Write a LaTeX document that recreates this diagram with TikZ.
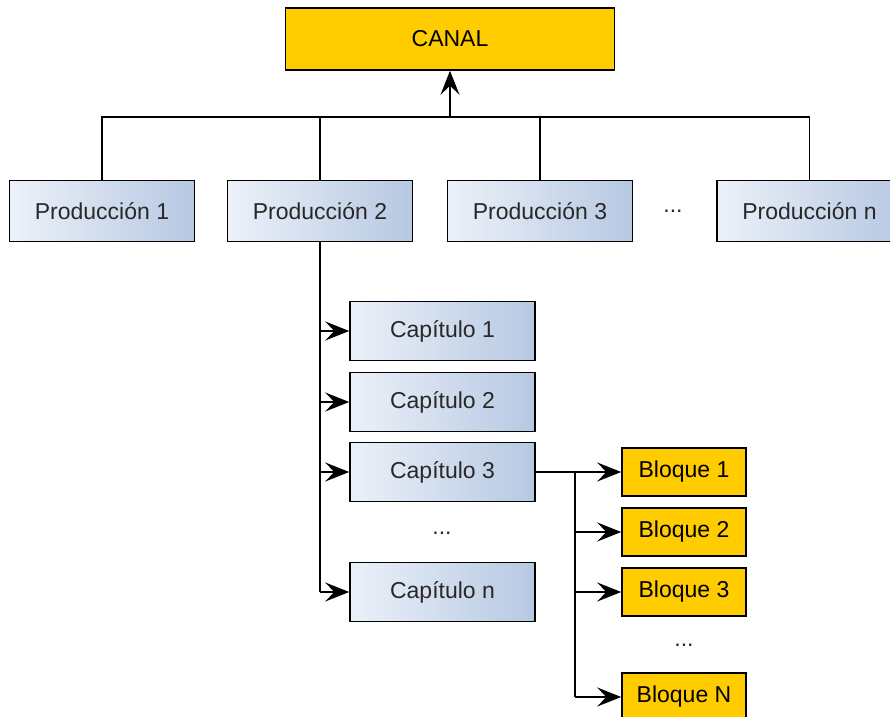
\documentclass[tikz,border=0pt]{standalone}
\usepackage{fontspec}
\setmainfont{Liberation Sans}
\usetikzlibrary{arrows.meta}
\definecolor{gold1}{RGB}{255,204,0}
\definecolor{blue1}{RGB}{236,241,249}
\definecolor{blue2}{RGB}{182,200,226}
\definecolor{ink}{RGB}{40,40,40}

\tikzset{
  box/.style={draw, line width=0.75pt, inner sep=0pt, text=ink,
    font=\fontsize{11.5}{13}\selectfont},
  bluebox/.style={box, left color=blue1, right color=blue2},
  goldbox/.style={box, fill=gold1, text=black},
  link/.style={line width=0.75pt},
  arr/.style={link, -{Stealth[length=12pt,width=9.5pt,inset=4.5pt]}}
}

\begin{document}
\begin{tikzpicture}[x=0.5pt, y=-0.5pt]
\useasboundingbox (0,0) rectangle (890,717);
\clip (0,0) rectangle (890,717);

% top
\node[goldbox, minimum width=164.5pt, minimum height=31pt] (canal) at (450,39) {CANAL};

% producciones
\foreach \n/\x/\t in {p1/102/1, p2/320/2, p3/540/3, pn/809.5/n}
{
\node[bluebox, minimum width=92.5pt, minimum height=30.5pt] (\n) at (\x,211) {Producción \t};
}
\node[text=ink, font=\fontsize{11.5}{13}\selectfont] (dotsp) at (673,211) {...};

\coordinate (bus) at (450,117);
\draw[link] (p1.north) -- (p1.north |- bus) -- (pn.north |- bus) -- (pn.north);
\draw[link] (p2.north) -- (p2.north |- bus);
\draw[link] (p3.north) -- (p3.north |- bus);
\draw[arr] (bus) -- (canal.south);

% capitulos
\foreach \n/\y/\t in {c1/331/1, c2/402/2, c3/472/3, cn/592/n}
{
\node[bluebox, minimum width=92.5pt, minimum height=29.5pt] (\n) at (442.5,\y) {Capítulo \t};
}
\node[text=ink, font=\fontsize{11.5}{13}\selectfont] (dotsc) at (442,533) {...};

\draw[link] (p2.south) -- (p2.south |- cn.west);
\foreach \n in {c1,c2,c3,cn}
{
\draw[arr] (p2.south |- \n.west) -- (\n.west);
}

% bloques
\foreach \n/\y/\t in {b1/472/1, b2/532/2, b3/592/3, bN/697/N}
{
\node[goldbox, minimum width=62pt, minimum height=24pt] (\n) at (684,\y) {Bloque \t};
}
\node[text=ink, font=\fontsize{11.5}{13}\selectfont] (dotsb) at (684,645) {...};

\coordinate (split) at (575,472);
\draw[link] (c3.east) -- (split) -- (split |- bN.west);
\foreach \n in {b1,b2,b3,bN}
{
\draw[arr] (split |- \n.west) -- (\n.west);
}
\end{tikzpicture}
\end{document}
